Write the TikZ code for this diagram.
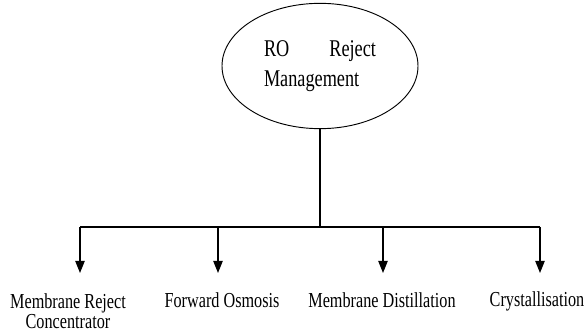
\documentclass[tikz,border=0pt]{standalone}
\usepackage{fontspec}
\setmainfont{Liberation Serif}
\newfontfamily\narrowserif[FakeStretch=0.76]{Liberation Serif}
\usepackage{tikz}
\usetikzlibrary{arrows.meta,positioning,shapes.geometric}

\tikzset{
  rootnode/.style={draw, ellipse, line width=0.7pt, inner sep=0pt,
    minimum width=147pt, minimum height=94pt, align=left,
    font=\narrowserif\fontsize{18}{22.5}\selectfont},
  leafnode/.style={anchor=north, inner sep=0pt, align=center,
    font=\narrowserif\fontsize{16}{15}\selectfont},
  branch/.style={line width=0.9pt},
  downarrow/.style={line width=0.9pt, -{Triangle[width=7pt,length=9pt]}}
}

\begin{document}
\begin{tikzpicture}[x=0.75pt, y=-0.75pt]
  \useasboundingbox (0,0) rectangle (585,331);
  % top of the tree
  \node[rootnode] (root) at (320,66) {\makebox[84pt][s]{RO Reject}\\Management};
  \coordinate (barL) at (80,227);
  \coordinate (barR) at (540,227);
  \draw[branch] (root.south) -- (root.south |- barL);
  \draw[branch] (barL) -- (barR);
  % leaves
  \node[leafnode] (mrc) at (68,293) {Membrane Reject\\Concentrator};
  \node[leafnode] (fo) at (222,292) {Forward Osmosis};
  \node[leafnode] (md) at (382,292) {Membrane Distillation};
  \node[leafnode] (cry) at (537,291) {Crystallisation};
  \coordinate (tipMRC) at (80,273);
  \coordinate (tipFO) at (218,273);
  \coordinate (tipMD) at (383,273);
  \coordinate (tipCRY) at (540,273);
  \draw[downarrow] (tipMRC |- barL) -- (tipMRC);
  \draw[downarrow] (tipFO |- barL) -- (tipFO);
  \draw[downarrow] (tipMD |- barL) -- (tipMD);
  \draw[downarrow] (tipCRY |- barL) -- (tipCRY);
\end{tikzpicture}
\end{document}
